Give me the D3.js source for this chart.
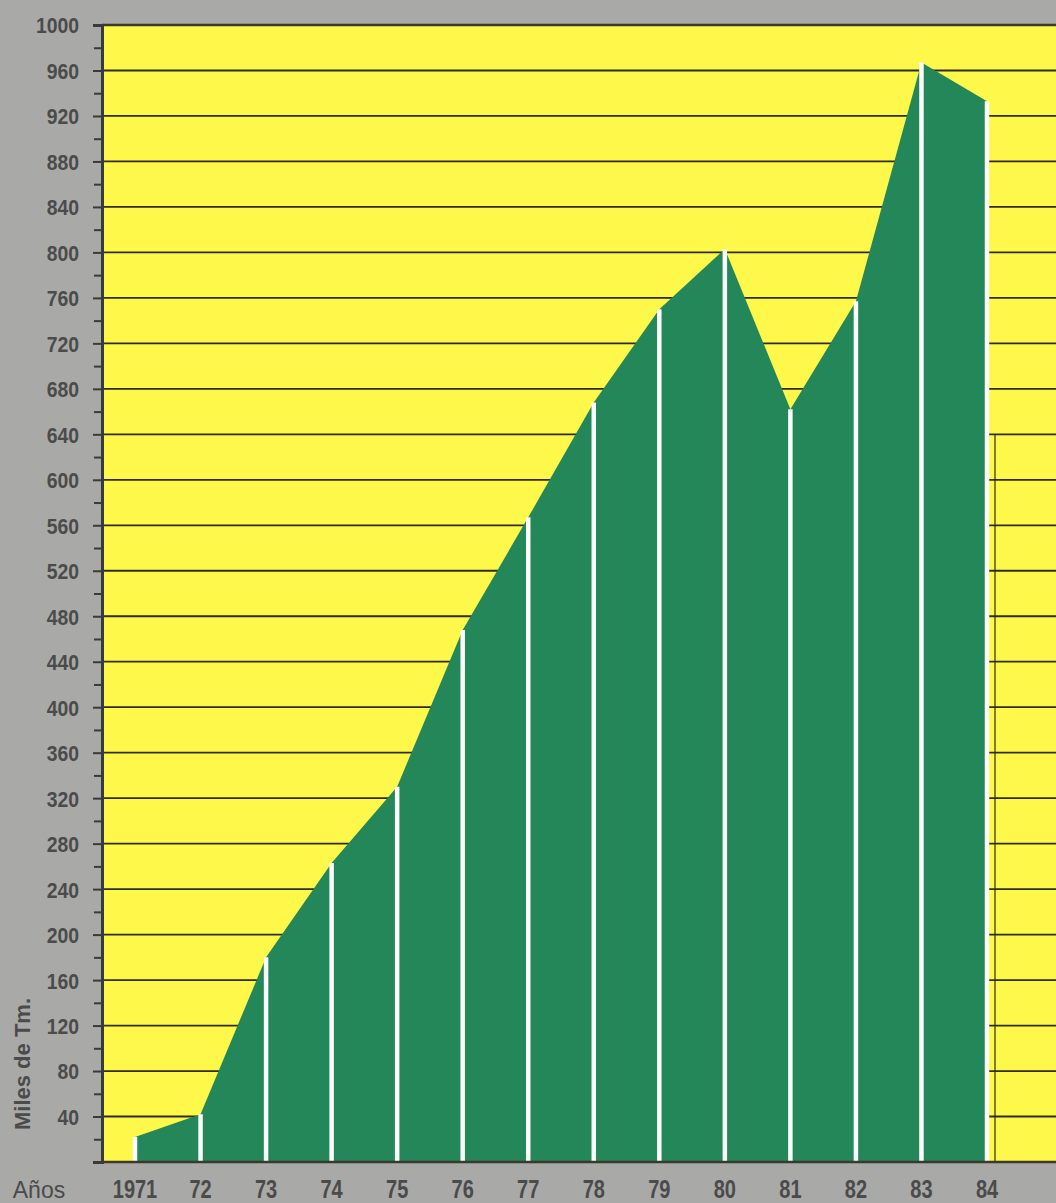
<!DOCTYPE html>
<html>
<head>
<meta charset="utf-8">
<script src="https://cdn.jsdelivr.net/npm/d3@7"></script>
<style>
  body { margin: 0; background: #a9a9a7; }
  svg { display: block; }
  .tick text, .lbl { font-family: "Liberation Sans", Arial, sans-serif; font-weight: bold; fill: #4b4b4b; }
</style>
</head>
<body>
<script>
var W = 1056, H = 1203;

// data (thousands of tonnes)
var years = [1971, 1972, 1973, 1974, 1975, 1976, 1977, 1978, 1979, 1980, 1981, 1982, 1983, 1984];
var values = [22, 42, 180, 263, 330, 468, 567, 668, 750, 803, 662, 757, 967, 933];
var yearLabels = ["1971", "72", "73", "74", "75", "76", "77", "78", "79", "80", "81", "82", "83", "84"];
var majorTicks = d3.range(40, 1001, 40);
var minorTicks = d3.range(20, 1000, 40);

var yellow = "#fdf84a", green = "#23875a", ink = "#2f2c14";

var svg = d3.select("body").append("svg")
    .attr("width", W)
    .attr("height", H);

var x = d3.scaleLinear().domain([1971, 1984]).range([135, 987]);
var y = d3.scaleLinear().domain([0, 1000]).range([1162, 25]);

var left = 102, right = W;

// plot background
svg.append("rect")
    .attr("x", left).attr("y", y(1000))
    .attr("width", right - left).attr("height", y(0) - y(1000))
    .attr("fill", yellow);

// grid lines
svg.selectAll(".grid")
    .data(majorTicks.filter(function(d){ return d < 1000; }))
  .enter().append("line")
    .attr("class", "grid")
    .attr("x1", left).attr("x2", right)
    .attr("y1", function(d){ return y(d); })
    .attr("y2", function(d){ return y(d); })
    .attr("stroke", ink)
    .attr("stroke-width", 1.8);

// stray vertical rule at the right
svg.append("line")
    .attr("x1", 995).attr("x2", 995)
    .attr("y1", y(640)).attr("y2", y(0))
    .attr("stroke", ink).attr("stroke-width", 1.2);

// green area
var area = d3.area()
    .x(function(d,i){ return x(years[i]); })
    .y0(y(0))
    .y1(function(d){ return y(d); });

svg.append("path")
    .datum(values)
    .attr("d", area)
    .attr("fill", green);

// white separators
svg.selectAll(".sep")
    .data(values)
  .enter().append("line")
    .attr("class", "sep")
    .attr("x1", function(d,i){ return x(years[i]); })
    .attr("x2", function(d,i){ return x(years[i]); })
    .attr("y1", y(0))
    .attr("y2", function(d){ return y(d); })
    .attr("stroke", "#fbfdfb")
    .attr("stroke-width", 4.5);

// top and bottom borders
svg.append("line")
    .attr("x1", left).attr("x2", right)
    .attr("y1", y(1000)).attr("y2", y(1000))
    .attr("stroke", "#3b3a2a").attr("stroke-width", 2.5);
svg.append("line")
    .attr("x1", left).attr("x2", right)
    .attr("y1", y(0)).attr("y2", y(0))
    .attr("stroke", "#3b3a2a").attr("stroke-width", 2.5);

// y axis
var sy = 0.88;
var yAxis = svg.append("g")
    .attr("transform", "translate(" + left + ",0)")
    .call(d3.axisLeft(y).tickValues(majorTicks).tickSize(9).tickFormat(d3.format("d")));
yAxis.select(".domain").attr("stroke", "#3b3a3a").attr("stroke-width", 3);
yAxis.selectAll(".tick line").attr("stroke", "#3b3a3a").attr("stroke-width", 2);
yAxis.selectAll(".tick text")
    .style("font-size", "22px")
    .attr("x", -23 / sy)
    .attr("dy", "0.36em")
    .attr("transform", "scale(" + sy + ",1)");

var yMinor = svg.append("g")
    .attr("transform", "translate(" + left + ",0)")
    .call(d3.axisLeft(y).tickValues(minorTicks).tickSize(8).tickFormat(""));
yMinor.select(".domain").remove();
yMinor.selectAll(".tick line").attr("stroke", "#3b3a3a").attr("stroke-width", 2);

// y axis title
svg.append("text")
    .attr("class", "lbl")
    .attr("transform", "translate(30,1064) rotate(-90)")
    .attr("text-anchor", "middle")
    .style("font-size", "22px")
    .text("Miles de Tm.");

// x labels
var sx = 0.8;
svg.selectAll(".xl")
    .data(yearLabels)
  .enter().append("text")
    .attr("class", "lbl xl")
    .attr("transform", function(d,i){ return "translate(" + x(years[i]) + ",1198) scale(" + sx + ",1)"; })
    .attr("text-anchor", "middle")
    .style("font-size", "25px")
    .text(function(d){ return d; });

svg.append("text")
    .attr("class", "lbl")
    .attr("x", 39).attr("y", 1198)
    .attr("text-anchor", "middle")
    .style("font-size", "23px")
    .style("font-weight", "normal")
    .text("Años");
</script>
</body>
</html>
